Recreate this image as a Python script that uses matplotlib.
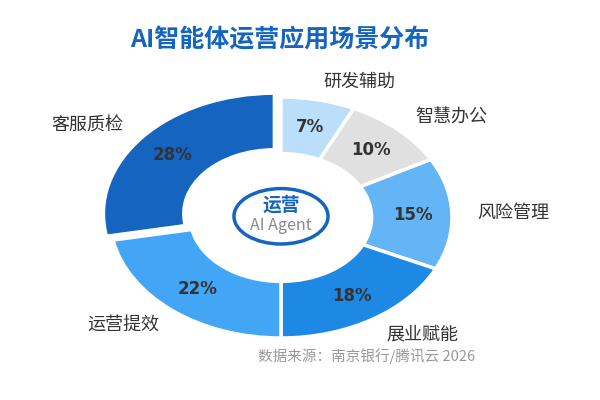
import matplotlib
matplotlib.use("Agg")
import matplotlib.pyplot as plt
from matplotlib.patches import Ellipse

plt.rcParams['font.family'] = ['Noto Sans CJK SC', 'DejaVu Sans']

title = "AI智能体运营应用场景分布"
categories = ["研发辅助", "智慧办公", "风险管理", "展业赋能", "运营提效", "客服质检"]
values = [7, 10, 15, 18, 22, 28]
colors = ["#BBDEFB", "#E0E0E0", "#64B5F6", "#1E88E5", "#42A5F5", "#1565C0"]
explode = [0, 0, 0, 0, 0, 0.05]
source = "数据来源：南京银行/腾讯云 2026"

fig = plt.figure(figsize=(6, 4), dpi=100)
ax = fig.add_axes([0, 0, 1, 1])

wedges, texts, autotexts = ax.pie(
    values, labels=categories, colors=colors, explode=explode,
    startangle=90, counterclock=False,
    autopct=lambda p: f"{p:.0f}%", pctdistance=0.77, labeldistance=1.15,
    wedgeprops=dict(width=0.47, edgecolor="white", linewidth=2.5),
    textprops=dict(fontsize=13, color="#333333"),
)
for t in autotexts:
    t.set_fontsize(12)
    t.set_fontweight("bold")
    t.set_color("#333333")
    t.set_fontfamily(["DejaVu Sans"])
# 运营提效 label sits slightly further right in the reference
x, y = texts[4].get_position()
texts[4].set_position((x + 0.02, y))

ax.set_aspect("auto")
ax.set_xlim(-281 / 171, (600 - 281) / 171)
ax.set_ylim(-182.5 / 120.5, 217.5 / 120.5)
ax.axis("off")

ax.add_patch(Ellipse((0, 0.01), 0.55, 0.46, facecolor="white",
                     edgecolor="#1565C0", linewidth=2.5, zorder=5))
ax.text(0, 0.1, "运营", ha="center", va="center", fontsize=13.5,
        fontweight="bold", color="#1565C0", zorder=6)
ax.text(0, -0.07, "AI Agent", ha="center", va="center", fontsize=11.5,
        color="#888888", zorder=6)

fig.text(0.467, 0.9, title, ha="center", va="center", fontsize=18,
         fontweight="bold", color="#1565C0")
fig.text(0.43, 0.11, source, ha="left", va="center", fontsize=10.5,
         color="#999999")

fig.savefig("out.png", dpi=100)
